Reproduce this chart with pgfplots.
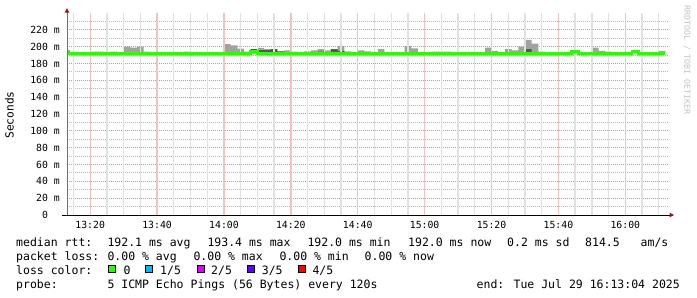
\documentclass[border=0pt]{standalone}
\usepackage{fontspec}
\setmainfont{DejaVu Sans Mono}
\setmonofont{DejaVu Sans Mono}
\usepackage{pgfplots}
\pgfplotsset{compat=1.18}
\usepgfplotslibrary{fillbetween}
\usepackage{pgfplotstable}

\definecolor{lossA}{RGB}{38,255,0}
\definecolor{lossB}{RGB}{0,184,255}
\definecolor{lossC}{RGB}{221,0,255}
\definecolor{lossD}{RGB}{94,0,255}
\definecolor{lossE}{RGB}{255,0,0}
\definecolor{smokeL}{RGB}{162,162,162}
\definecolor{smokeD}{RGB}{85,85,85}
\definecolor{mgrid}{RGB}{222,140,140}
\definecolor{ngrid}{RGB}{185,185,185}
\definecolor{vmgrid}{RGB}{240,195,195}
\definecolor{vngrid}{RGB}{225,225,225}
\definecolor{arrowred}{RGB}{150,20,20}
\definecolor{yaxis}{RGB}{110,110,110}
\definecolor{wmark}{RGB}{195,195,195}

% smoke (upper envelope), minutes after 13:00, value in ms
\pgfplotstableread{
m top
13.07 196
14 192
20 194
22 194
24 192
26 194
28 192
30 200
32 199
34 200
36 194
38 192
48 194
50 192
60 203
62 201.5
64 197.6
66 194
68 197
70 198.5
72 197
74 197
76 194.5
78 195.5
80 194
82 192
84 194.5
86 195.5
88 197
90 195.5
92 197
94 201
96 194.5
98 192
100 195.5
102 194.5
104 192
106 197
108 192
114 201
116 198
118 192
122 194
128 192
138 199
140 195
142 192
144 197
146 195.5
148 200
150 208
152 203.5
154 194
156 192
170 199
172 195
174 194
176 192
190 195
192 192
}\smokelight

\pgfplotstableread{
m top
13.07 192
68 197
70 196
72 196
74 197
76 194.5
78 192
88 194
90 192
92 197
94 195
96 192
150 197
152 192
192 192
}\smokedark

\pgfplotstableread{
m med
13.07 192
68 194
70 192
164 194.4
166 192
182 194
184 192
192 192
}\median

\begin{document}
\begin{tikzpicture}[x=1bp,y=1bp]
\path (0,0) rectangle (697,297);
\begin{axis}[
  at={(67bp,82bp)}, anchor=south west,
  scale only axis, width=602bp, height=202bp,
  xmin=13.07, xmax=193.07, ymin=0, ymax=240,
  axis line style={draw=none},
  major tick length=0pt, minor tick length=0pt,
  xtick={20,40,...,180},
  xticklabels={13:20,13:40,14:00,14:20,14:40,15:00,15:20,15:40,16:00},
  ytick={0,20,...,220},
  yticklabels={0\hphantom{ m},20 m,40 m,60 m,80 m,100 m,120 m,140 m,160 m,180 m,200 m,220 m},
  minor ytick={10,30,...,230},
  xtick pos=bottom, ytick pos=left,
  xmajorgrids=false, ymajorgrids=true, yminorgrids=true,
  minor grid style={draw=ngrid, line width=1bp, dash pattern=on 1bp off 1bp},
  major grid style={draw=mgrid, line width=1bp, dash pattern=on 1bp off 1bp},
  xticklabel style={font=\fontsize{9.8bp}{11bp}\selectfont, inner sep=0pt, anchor=north, yshift=-6bp},
  yticklabel style={font=\fontsize{9.8bp}{11bp}\selectfont, inner sep=0pt, anchor=east, xshift=-7bp},
  clip=true,
]
% vertical grid lines (5-minute minor, 20-minute major)
\pgfplotsinvokeforeach{15,25,30,35,45,50,55,65,70,75,85,90,95,105,110,115,125,130,135,145,150,155,165,170,175,185,190}{
  \draw[vngrid, line width=1.3bp] (axis cs:#1,0) -- (axis cs:#1,240);
}
\pgfplotsinvokeforeach{20,40,60,80,100,120,140,160,180}{
  \draw[vmgrid, line width=1.3bp] (axis cs:#1,0) -- (axis cs:#1,240);
}
\addplot[draw=none, const plot, name path=light, forget plot] table[x=m,y=top] {\smokelight};
\addplot[draw=none, const plot, name path=dark, forget plot] table[x=m,y=top] {\smokedark};
\addplot[draw=none, name path=base, forget plot] coordinates {(13.07,192) (192,192)};
\addplot[fill=smokeL, draw=none, forget plot] fill between[of=light and base];
\addplot[fill=smokeD, draw=none, forget plot] fill between[of=dark and base];
\addplot[const plot, draw=lossA, line width=2.7bp, forget plot] table[x=m,y=med] {\median};
\end{axis}
% axis lines and arrows
\draw[black, line width=0.9bp] (62,82) -- (670,82);
\fill[arrowred] (669.5,79.7) -- (674,82) -- (669.5,84.3) -- cycle;
\draw[yaxis, line width=0.9bp] (67,82) -- (67,285);
\fill[arrowred] (64.6,284.3) -- (67,288.8) -- (69.4,284.3) -- cycle;
% y label
\node[rotate=90, font=\fontsize{11.2bp}{13bp}\selectfont, inner sep=0pt] at (9.5,182) {Seconds};
% watermark
\node[rotate=-90, font=\fontsize{8.3bp}{10bp}\selectfont, text=wmark, inner sep=0pt] at (687,237) {RRDTOOL / TOBI OETIKER};
% legend rows
\begin{scope}[every node/.style={anchor=base west, inner sep=0pt, font=\fontsize{11.5bp}{13bp}\selectfont}]
\node at (16,51) {median rtt:};
\node at (107.3,51) {192.1 ms avg};
\node at (207.3,51) {193.4 ms max};
\node at (307.3,51) {192.0 ms min};
\node at (408,51) {192.0 ms now};
\node at (507,51) {0.2 ms sd};
\node at (585,51) {814.5};
\node at (640.5,51) {am/s};
\node at (16,37) {packet loss:};
\node at (107.3,37) {0.00 \% avg};
\node at (193.3,37) {0.00 \% max};
\node at (279.3,37) {0.00 \% min};
\node at (364.5,37) {0.00 \% now};
\node at (16,23) {loss color:};
\node at (123.3,23) {0};
\node at (160,23) {1/5};
\node at (211,23) {2/5};
\node at (261.7,23) {3/5};
\node at (312.3,23) {4/5};
\node at (16,9) {probe:};
\node at (107.3,9) {5 ICMP Echo Pings (56 Bytes) every 120s};
\node[anchor=base east] at (680,9) {end: Tue Jul 29 16:13:04 2025};
\end{scope}
\filldraw[fill=lossA, draw=black, line width=0.7bp] (108.5,24.3) rectangle (115.2,31.3);
\filldraw[fill=lossB, draw=black, line width=0.7bp] (145.8,24.3) rectangle (152.5,31.3);
\filldraw[fill=lossC, draw=black, line width=0.7bp] (197.2,24.3) rectangle (203.9,31.3);
\filldraw[fill=lossD, draw=black, line width=0.7bp] (247.5,24.3) rectangle (254.2,31.3);
\filldraw[fill=lossE, draw=black, line width=0.7bp] (298.5,24.3) rectangle (305.2,31.3);
\end{tikzpicture}
\end{document}
